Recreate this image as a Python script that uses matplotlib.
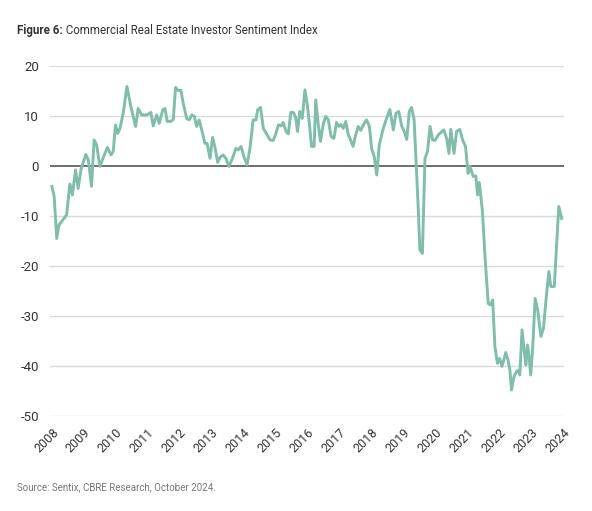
import matplotlib
matplotlib.use("Agg")
import matplotlib.pyplot as plt

plt.rcParams["font.family"] = ["Roboto", "DejaVu Sans"]

# sentiment index (decimal years)
dates = [
    2008.00, 2008.07, 2008.15, 2008.22, 2008.46, 2008.56, 2008.64, 2008.74, 2008.82, 2008.91,
    2009.06, 2009.14, 2009.24, 2009.32, 2009.40, 2009.50, 2009.64, 2009.74, 2009.85, 2009.92,
    2009.99, 2010.06, 2010.13, 2010.23, 2010.35, 2010.47, 2010.62, 2010.70, 2010.81, 2010.97,
    2011.10, 2011.17, 2011.28, 2011.36, 2011.47, 2011.54, 2011.61, 2011.72, 2011.80, 2011.87,
    2011.95, 2012.04, 2012.11, 2012.22, 2012.30, 2012.38, 2012.46, 2012.53, 2012.61, 2012.69,
    2012.79, 2012.86, 2012.95, 2013.03, 2013.10, 2013.19, 2013.26, 2013.36, 2013.45, 2013.54,
    2013.65, 2013.76, 2013.83, 2013.92, 2014.01, 2014.11, 2014.20, 2014.30, 2014.39, 2014.44,
    2014.53, 2014.62, 2014.72, 2014.83, 2014.93, 2015.01, 2015.09, 2015.17, 2015.24, 2015.33,
    2015.40, 2015.48, 2015.56, 2015.63, 2015.69, 2015.76, 2015.84, 2015.92, 2015.99, 2016.06,
    2016.13, 2016.21, 2016.26, 2016.34, 2016.41, 2016.49, 2016.57, 2016.65, 2016.74, 2016.83,
    2016.91, 2016.99, 2017.05, 2017.12, 2017.20, 2017.28, 2017.35, 2017.43, 2017.51, 2017.59,
    2017.67, 2017.75, 2017.85, 2017.94, 2018.01, 2018.09, 2018.17, 2018.25, 2018.35, 2018.46,
    2018.58, 2018.69, 2018.77, 2018.86, 2018.95, 2019.03, 2019.11, 2019.19, 2019.26, 2019.34,
    2019.42, 2019.48, 2019.52, 2019.60, 2019.68, 2019.76, 2019.84, 2019.92, 2019.99, 2020.10,
    2020.18, 2020.27, 2020.36, 2020.43, 2020.49, 2020.59, 2020.67, 2020.77, 2020.86, 2020.95,
    2021.03, 2021.09, 2021.19, 2021.27, 2021.33, 2021.38, 2021.43, 2021.48, 2021.56, 2021.66,
    2021.73, 2021.80, 2021.87, 2021.95, 2022.02, 2022.09, 2022.15, 2022.21, 2022.28, 2022.34,
    2022.39, 2022.47, 2022.55, 2022.61, 2022.65, 2022.72, 2022.79, 2022.84, 2022.89, 2022.94,
    2022.99, 2023.05, 2023.13, 2023.21, 2023.31, 2023.39, 2023.47, 2023.56, 2023.62, 2023.73,
    2023.80, 2023.87, 2023.96,
]
values = [
    -4.1, -6.1, -14.5, -11.8, -9.8, -3.6, -5.8, -0.8, -4.5, -0.7,
    2.3, 1.2, -4.1, 5.2, 4.2, -0.1, 2.2, 3.7, 2.2, 2.9,
    8.2, 6.5, 7.5, 10.5, 15.9, 11.9, 7.9, 11.5, 10.2, 10.2,
    10.7, 8.0, 10.2, 8.5, 11.2, 11.5, 8.9, 8.9, 9.3, 15.7,
    15.1, 15.1, 12.5, 9.5, 9.2, 10.2, 9.9, 7.9, 9.2, 7.2,
    4.5, 4.5, 1.5, 5.7, 3.9, 0.7, 1.7, 2.2, 1.5, -0.1,
    1.5, 3.5, 3.2, 3.9, 1.9, 0.2, 3.5, 9.2, 9.2, 11.2,
    11.7, 7.5, 6.4, 5.2, 5.1, 6.4, 8.2, 8.0, 8.7, 6.9,
    6.4, 10.7, 10.7, 9.7, 6.9, 10.9, 9.5, 15.2, 12.5, 8.5,
    3.9, 3.9, 13.2, 8.2, 4.9, 8.2, 9.9, 9.3, 5.9, 5.5,
    8.7, 7.9, 8.3, 7.5, 8.9, 6.2, 5.2, 3.9, 6.2, 7.9,
    7.1, 8.2, 9.2, 7.9, 3.5, 1.9, -1.8, 4.2, 6.9, 9.2,
    11.3, 7.2, 10.5, 10.9, 8.0, 6.9, 5.3, 10.9, 11.7, 9.3,
    -1.5, -10.1, -16.8, -17.5, 1.5, 2.9, 7.9, 5.2, 5.1, 6.2,
    6.7, 7.2, 5.5, 2.5, 7.3, 2.5, 6.9, 7.3, 5.2, 3.9,
    -1.5, -0.1, -2.1, -2.0, -5.8, -3.3, -6.1, -9.1, -18.1, -27.5,
    -27.8, -26.8, -36.1, -39.5, -38.5, -40.1, -38.8, -37.3, -38.8, -40.8,
    -44.8, -42.1, -41.1, -40.9, -41.8, -32.8, -37.1, -39.8, -35.8, -38.1,
    -41.8, -36.8, -26.5, -28.8, -34.1, -32.5, -26.8, -21.1, -24.1, -24.1,
    -16.1, -8.1, -10.5,
]
years = list(range(2008, 2025))
yticks = [20, 10, 0, -10, -20, -30, -40, -50]

fig = plt.figure(figsize=(5.92, 5.11), dpi=100)
ax = fig.add_axes([0.0845, 0.186, 0.868, 0.685])

for y in yticks:
    if y == 0:
        ax.axhline(y, color="#555555", lw=1.2, zorder=1)
    else:
        ax.axhline(y, color="#d6dbd9", lw=1.0, zorder=1)

ax.plot(dates, values, color="#80bdab", lw=2.1, zorder=3, solid_joinstyle="round")

ax.set_xlim(2007.94, 2024.03)
ax.set_ylim(-50, 20)
ax.set_yticks(yticks)
ax.set_yticklabels([str(y) for y in yticks], fontsize=9.5, color="#333333")
ax.set_xticks(years)
ax.set_xticklabels([str(y) for y in years], rotation=45, ha="right",
                   rotation_mode="anchor", fontsize=9, color="#333333")
ax.tick_params(length=0, axis="y", pad=8)
ax.tick_params(length=0, axis="x", pad=7)
for s in ax.spines.values():
    s.set_visible(False)

t1 = fig.text(0.029, 0.933, "Figure 6:", fontsize=8.3, fontweight="bold", color="#333333")
ax.annotate(" Commercial Real Estate Investor Sentiment Index", xy=(1, 0),
            xycoords=t1, va="bottom", fontsize=8.3, color="#333333")
fig.text(0.029, 0.04, "Source: Sentix, CBRE Research, October 2024.", fontsize=7,
         color="#777777")

fig.savefig("out.png", dpi=100)
